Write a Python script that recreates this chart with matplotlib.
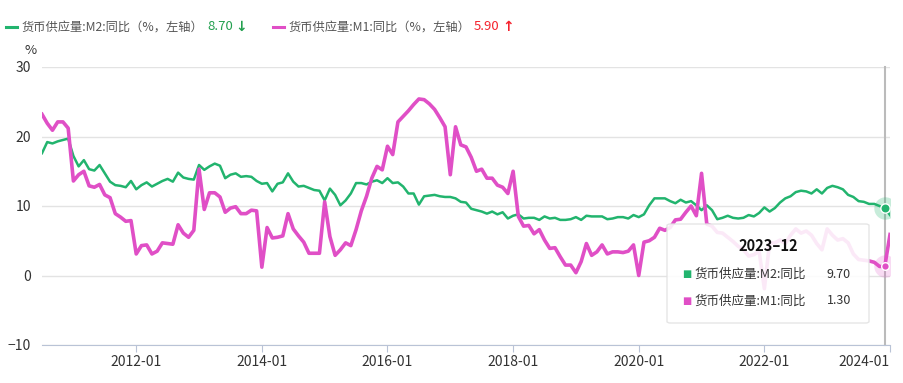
import matplotlib
matplotlib.use("Agg")
import matplotlib.pyplot as plt
import numpy as np
import pandas as pd
from matplotlib.patches import FancyBboxPatch

plt.rcParams['font.family'] = ['Noto Sans CJK SC', 'DejaVu Sans']

# monthly data 2010-07 .. 2024-01
months = pd.period_range('2010-07', '2024-01', freq='M')

m2 = [17.6, 19.2, 19.0, 19.3, 19.5, 19.7,
      17.2, 15.7, 16.6, 15.3, 15.1, 15.9, 14.7, 13.5, 13.0, 12.9, 12.7, 13.6,
      12.4, 13.0, 13.4, 12.8, 13.2, 13.6, 13.9, 13.5, 14.8, 14.1, 13.9, 13.8,
      15.9, 15.2, 15.7, 16.1, 15.8, 14.0, 14.5, 14.7, 14.2, 14.3, 14.2, 13.6,
      13.2, 13.3, 12.1, 13.2, 13.4, 14.7, 13.5, 12.8, 12.9, 12.6, 12.3, 12.2,
      10.8, 12.5, 11.6, 10.1, 10.8, 11.8, 13.3, 13.3, 13.1, 13.5, 13.7, 13.3,
      14.0, 13.3, 13.4, 12.8, 11.8, 11.8, 10.2, 11.4, 11.5, 11.6, 11.4, 11.3,
      11.3, 11.1, 10.6, 10.5, 9.6, 9.4, 9.2, 8.9, 9.2, 8.8, 9.1, 8.2,
      8.6, 8.8, 8.2, 8.3, 8.3, 8.0, 8.5, 8.2, 8.3, 8.0, 8.0, 8.1,
      8.4, 8.0, 8.6, 8.5, 8.5, 8.5, 8.1, 8.2, 8.4, 8.4, 8.2, 8.7,
      8.4, 8.8, 10.1, 11.1, 11.1, 11.1, 10.7, 10.4, 10.9, 10.5, 10.7, 10.1,
      9.4, 10.1, 9.4, 8.1, 8.3, 8.6, 8.3, 8.2, 8.3, 8.7, 8.5, 9.0,
      9.8, 9.2, 9.7, 10.5, 11.1, 11.4, 12.0, 12.2, 12.1, 11.8, 12.4, 11.8,
      12.6, 12.9, 12.7, 12.4, 11.6, 11.3, 10.7, 10.6, 10.3, 10.3, 10.0, 9.7,
      8.7]

m1 = [23.2, 21.9, 20.9, 22.1, 22.1, 21.2,
      13.6, 14.5, 15.0, 12.9, 12.7, 13.1, 11.6, 11.2, 8.9, 8.4, 7.8, 7.9,
      3.1, 4.3, 4.4, 3.1, 3.5, 4.7, 4.6, 4.5, 7.3, 6.1, 5.5, 6.5,
      15.3, 9.5, 11.9, 11.9, 11.3, 9.1, 9.7, 9.9, 8.9, 8.9, 9.4, 9.3,
      1.2, 6.9, 5.4, 5.5, 5.7, 8.9, 6.7, 5.7, 4.8, 3.2, 3.2, 3.2,
      10.6, 5.6, 2.9, 3.7, 4.7, 4.3, 6.6, 9.3, 11.4, 14.0, 15.7, 15.2,
      18.6, 17.4, 22.1, 22.9, 23.7, 24.6, 25.4, 25.3, 24.7, 23.9, 22.7, 21.4,
      14.5, 21.4, 18.8, 18.5, 17.0, 15.0, 15.3, 14.0, 14.0, 13.0, 12.7, 11.8,
      15.0, 8.5, 7.1, 7.2, 6.0, 6.6, 5.1, 3.9, 4.0, 2.7, 1.5, 1.5,
      0.4, 2.0, 4.6, 2.9, 3.4, 4.4, 3.1, 3.4, 3.4, 3.3, 3.5, 4.4,
      0.0, 4.8, 5.0, 5.5, 6.8, 6.5, 6.9, 8.0, 8.1, 9.1, 10.0, 8.6,
      14.7, 7.4, 7.1, 6.2, 6.1, 5.5, 4.9, 4.2, 3.7, 2.8, 3.0, 3.5,
      -1.9, 4.7, 4.7, 5.1, 4.6, 5.8, 6.7, 6.1, 6.4, 5.8, 4.6, 3.7,
      6.7, 5.8, 5.1, 5.3, 4.7, 3.1, 2.3, 2.2, 2.1, 1.9, 1.3, 1.3,
      5.9]

name_m2 = '货币供应量:M2:同比'
name_m1 = '货币供应量:M1:同比'
c_m2 = '#22b46e'
c_m1 = '#e04fc6'

x = np.arange(len(months))
labels = [p.strftime('%Y-%m') for p in months]
tick_idx = [i for i, p in enumerate(months) if p.month == 1 and p.year % 2 == 0]
hover = labels.index('2023-12')

fig = plt.figure(figsize=(9.04, 3.83), dpi=100)
ax = fig.add_axes([42/904, 1-345/383, 848/904, 278/383])

ax.plot(x, m2, color=c_m2, lw=1.8, zorder=3)
ax.plot(x, m1, color=c_m1, lw=2.6, zorder=3)

ax.set_xlim(0, len(x) - 1)
ax.set_ylim(-10, 30)
ax.set_yticks([-10, 0, 10, 20, 30])
ax.grid(axis='y', color='#e3e3e3', lw=1)
ax.set_axisbelow(True)
for s in ['top', 'right', 'left']:
    ax.spines[s].set_visible(False)
ax.spines['bottom'].set_color('#b9c3d6')
ax.tick_params(axis='y', length=0, labelsize=10, colors='#333333', pad=8)
ax.set_xticks(tick_idx)
ax.set_xticklabels([labels[i] for i in tick_idx])
ax.tick_params(axis='x', length=5, color='#b9c3d6', labelsize=10, colors='#333333', pad=2)
ax.get_xticklabels()[-1].set_horizontalalignment('right')
ax.text(-0.006, 1.035, '%', transform=ax.transAxes, ha='right', va='bottom',
        fontsize=9.5, color='#333333')

# hover line and highlighted points
ax.axvline(hover, color='#bbbbbb', lw=1.5, zorder=2, ymax=1, clip_on=False)
ax.scatter([hover], [m2[hover]], s=260, color=c_m2, alpha=0.25, zorder=4, lw=0)
ax.scatter([hover], [m2[hover]], s=45, color=c_m2, edgecolor='white', lw=1, zorder=5)
ax.scatter([hover], [m1[hover]], s=260, color=c_m1, alpha=0.2, zorder=4, lw=0)
ax.scatter([hover], [m1[hover]], s=30, color=c_m1, edgecolor='white', lw=1, zorder=5)

# tooltip
tip = FancyBboxPatch((667/904, 1-323/383), 202/904, 99/383, transform=fig.transFigure,
                     boxstyle='round,pad=0,rounding_size=0.004', facecolor='white',
                     edgecolor='#e2e2e2', alpha=0.88, lw=1, zorder=10)
fig.patches.append(tip)
fig.text(768/904, 1-246/383, '2023–12', ha='center', va='center', fontsize=10.5,
         fontweight='bold', color='#111111', zorder=11)
for yy, nm, val, col in [(274, name_m2, m2[hover], c_m2), (301, name_m1, m1[hover], c_m1)]:
    fig.text(682/904, 1-yy/383, '■', ha='left', va='center', fontsize=7, color=col, zorder=11,
             family=['DejaVu Sans'])
    fig.text(695/904, 1-yy/383, nm, ha='left', va='center', fontsize=9, color='#333333', zorder=11)
    fig.text(851/904, 1-yy/383, f'{val:.2f}', ha='right', va='center', fontsize=9,
             color='#333333', zorder=11)

# legend
ly = 1 - 27/383
for x0, nm, val, col, arrow, acol in [(6, name_m2, m2[-1], c_m2, '↓', '#22a04f'),
                                      (273, name_m1, m1[-1], c_m1, '↑', '#f5222d')]:
    fig.add_artist(plt.Line2D([x0/904, (x0+11)/904], [ly, ly], color=col, lw=2.2))
    fig.text((x0+16)/904, ly, nm + '（%，左轴）', ha='left', va='center', fontsize=8.8,
             color='#555555')
    fig.text((x0+201)/904, ly, f'{val:.2f}', ha='left', va='center', fontsize=9.5,
             color='#22a04f' if col == c_m2 else '#f5222d')
    fig.text((x0+229)/904, ly, arrow, ha='left', va='center', fontsize=10, color=acol,
             fontweight='bold', family=['DejaVu Sans'])

fig.savefig('out.png', dpi=100)
